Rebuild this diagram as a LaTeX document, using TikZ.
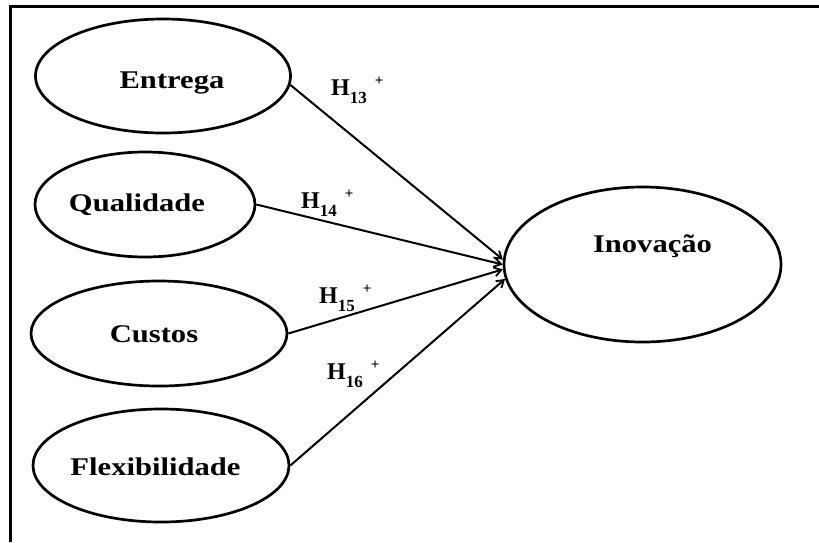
\documentclass[tikz,border=0pt]{standalone}
\usepackage{fontspec}
\setmainfont{Liberation Serif}
\newfontfamily\widebold{Liberation Serif}[FakeStretch=1.2]
\usetikzlibrary{arrows.meta, shapes.geometric}

% hypothesis label: H with a subscript number and a superscript plus
\newcommand\hypl[1]{H\raisebox{-8pt}{\fontsize{17}{17}\selectfont #1}\hspace{8pt}\raisebox{10pt}{\fontsize{15}{15}\selectfont +}}

\tikzset{
  construct/.style={ellipse, draw, line width=2.7pt, inner sep=0pt,
    font=\widebold\bfseries\fontsize{25.5}{26}\selectfont},
  hyp/.style={line width=2pt,
    -{Straight Barb[length=7pt,width=9pt,line width=1.8pt]}},
  hlabel/.style={anchor=base west, inner sep=0pt,
    font=\bfseries\fontsize{24}{24}\selectfont},
  frame/.style={line width=2.6pt}
}

\begin{document}
\begin{tikzpicture}[x=1pt, y=-1pt]
\useasboundingbox (0,0) rectangle (819,542);

% open frame: left and top edges
\draw[frame] (10.5,542) -- (10.5,6.5) -- (819,6.5);

% constructs
\node[construct, minimum width=255pt, minimum height=114pt,
      text height=24pt, text depth=0pt] (entrega) at (163,76)
      {\hspace*{18pt}Entrega};
\node[construct, minimum width=220pt, minimum height=105pt,
      text height=18pt, text depth=5pt] (qualidade) at (145,204.5)
      {Qualidade\hspace*{16pt}};
\node[construct, minimum width=256pt, minimum height=105pt,
      text height=18pt, text depth=1pt] (custos) at (159,333.5)
      {Custos\hspace*{10pt}};
\node[construct, minimum width=244pt, minimum height=113pt,
      text height=19pt, text depth=0pt] (flex) at (161,465.5)
      {Flexibilidade\hspace*{11pt}};
\node[construct, minimum width=277pt, minimum height=155pt,
      text height=18pt, text depth=43pt] (inovacao) at (642.5,264.5)
      {\hspace*{20pt}Inovação};

% hypothesised paths
\draw[hyp] (entrega.-4)  -- (inovacao.178.2);
\draw[hyp] (qualidade.0) -- (inovacao.180);
\draw[hyp] (custos.0.7)  -- (inovacao.182.8);
\draw[hyp] (flex.0.5)    -- (inovacao.186.3);

% hypothesis labels
\node[hlabel] (h13) at (331,95)  {\hypl{13}};
\node[hlabel] (h14) at (301,208) {\hypl{14}};
\node[hlabel] (h15) at (319,303) {\hypl{15}};
\node[hlabel] (h16) at (327,379) {\hypl{16}};
\end{tikzpicture}
\end{document}
